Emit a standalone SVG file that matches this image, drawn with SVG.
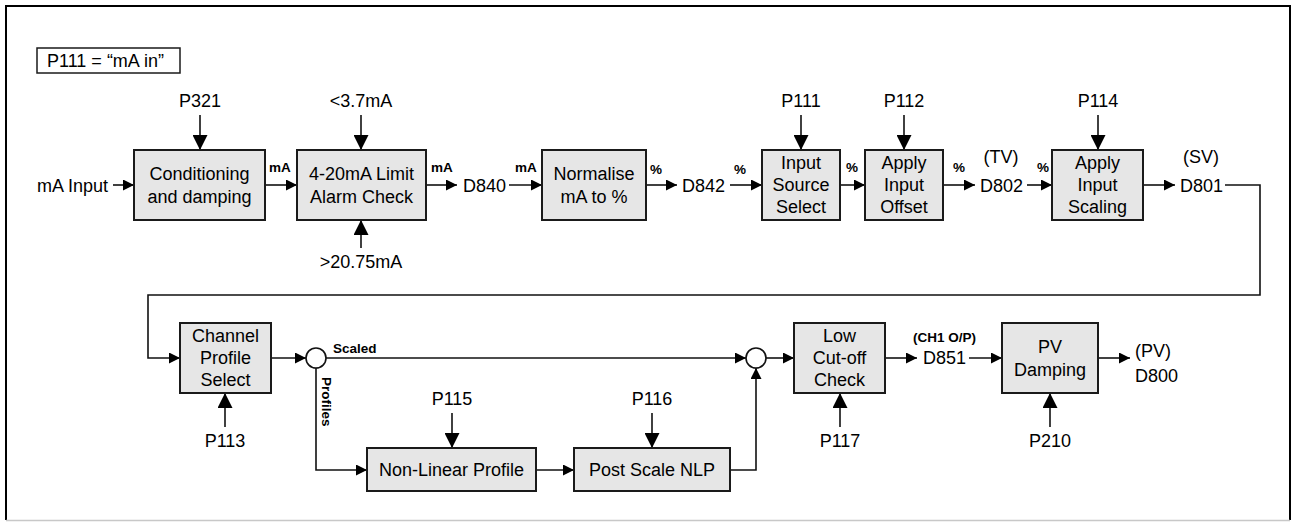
<svg xmlns="http://www.w3.org/2000/svg" width="1292" height="522" viewBox="0 0 1292 522">
<style>
text{font-family:"Liberation Sans",Arial,sans-serif;fill:#000}
.t{font-size:18px}
.c{text-anchor:middle}
.b{font-size:13.5px;font-weight:bold}
.box{fill:#e6e6e6;stroke:#1a1a1a;stroke-width:2}
.ln{fill:none;stroke:#111;stroke-width:1.6}
.s{marker-end:url(#ah)}
.L{marker-end:url(#ahL)}
.junc{fill:#fff;stroke:#111;stroke-width:1.6}
</style>
<defs>
<marker id="ah" viewBox="0 0 10 10" refX="10" refY="5" markerWidth="11" markerHeight="11" markerUnits="userSpaceOnUse" orient="auto"><path d="M0,0 L10,5 L0,10 z" fill="#000"/></marker>
<marker id="ahL" viewBox="0 0 10 10" refX="10" refY="5" markerWidth="15" markerHeight="15" markerUnits="userSpaceOnUse" orient="auto"><path d="M0,0 L10,5 L0,10 z" fill="#000"/></marker>
</defs>
<rect width="1292" height="522" fill="#fff"/>
<path d="M6,520 L6,6 L1290,6 L1290,520" fill="none" stroke="#000" stroke-width="2"/>
<line x1="6" y1="520.5" x2="1290" y2="520.5" stroke="#c8c8c8" stroke-width="1.5"/>

<g id="mode">
<rect x="37" y="48" width="143" height="25" fill="#fff" stroke="#1a1a1a" stroke-width="1.5"/>
<text class="t" x="47" y="67">P111 = “mA in”</text>
</g>

<g id="connectors">
<line class="ln s" x1="113" y1="185" x2="134" y2="185"/>
<line class="ln L" x1="200" y1="115" x2="200" y2="150"/>
<line class="ln s" x1="265" y1="185" x2="297" y2="185"/>
<line class="ln L" x1="361" y1="115" x2="361" y2="150"/>
<line class="ln L" x1="361" y1="248" x2="361" y2="220"/>
<line class="ln s" x1="426" y1="185" x2="457" y2="185"/>
<line class="ln s" x1="509" y1="185" x2="542" y2="185"/>
<line class="ln s" x1="646" y1="185" x2="677" y2="185"/>
<line class="ln s" x1="730" y1="185" x2="762" y2="185"/>
<line class="ln L" x1="801" y1="115" x2="801" y2="150"/>
<line class="ln s" x1="840" y1="185" x2="865" y2="185"/>
<line class="ln L" x1="904" y1="115" x2="904" y2="150"/>
<line class="ln s" x1="943" y1="185" x2="975" y2="185"/>
<line class="ln s" x1="1027" y1="185" x2="1052" y2="185"/>
<line class="ln L" x1="1098" y1="115" x2="1098" y2="150"/>
<line class="ln s" x1="1143" y1="185" x2="1175" y2="185"/>
<polyline class="ln s" points="1225,185 1260,185 1260,295 148,295 148,358 180,358"/>
<line class="ln s" x1="271" y1="358" x2="306" y2="358"/>
<line class="ln L" x1="225" y1="427" x2="225" y2="393"/>
<line class="ln s" x1="326" y1="358" x2="746" y2="358"/>
<polyline class="ln s" points="316,368 316,470 367,470"/>
<line class="ln L" x1="452" y1="413" x2="452" y2="448"/>
<line class="ln s" x1="536" y1="470" x2="574" y2="470"/>
<line class="ln L" x1="652" y1="413" x2="652" y2="448"/>
<polyline class="ln s" points="730,470 756,470 756,368"/>
<line class="ln s" x1="766" y1="358" x2="794" y2="358"/>
<line class="ln L" x1="840" y1="427" x2="840" y2="393"/>
<line class="ln s" x1="885" y1="358" x2="917" y2="358"/>
<line class="ln s" x1="969" y1="358" x2="1002" y2="358"/>
<line class="ln L" x1="1050" y1="427" x2="1050" y2="393"/>
<line class="ln s" x1="1098" y1="358" x2="1130" y2="358"/>
<circle id="junction1" class="junc" cx="316" cy="358" r="10"/>
<circle id="junction2" class="junc" cx="756" cy="358" r="10"/>
</g>

<g id="labels">
<text class="t" x="37" y="192">mA Input</text>
<text class="t c" x="200" y="107">P321</text>
<text class="b" x="269" y="172">mA</text>
<text class="t c" x="361" y="107">&lt;3.7mA</text>
<text class="t c" x="361" y="268">&gt;20.75mA</text>
<text class="b" x="431" y="172">mA</text>
<text class="t" x="463" y="192">D840</text>
<text class="b" x="515" y="172">mA</text>
<text class="b" x="650" y="174">%</text>
<text class="t" x="682" y="192">D842</text>
<text class="b" x="734" y="174">%</text>
<text class="t c" x="801" y="107">P111</text>
<text class="b" x="846" y="172">%</text>
<text class="t c" x="904" y="107">P112</text>
<text class="b" x="953" y="172">%</text>
<text class="t c" x="1001" y="163">(TV)</text>
<text class="t" x="980" y="192">D802</text>
<text class="b" x="1037" y="172">%</text>
<text class="t c" x="1098" y="107">P114</text>
<text class="t c" x="1201" y="163">(SV)</text>
<text class="t" x="1180" y="192">D801</text>
<text class="t c" x="225" y="447">P113</text>
<text class="b" x="333" y="353">Scaled</text>
<text class="b" transform="translate(322,377) rotate(90)">Profiles</text>
<text class="t c" x="452" y="405">P115</text>
<text class="t c" x="652" y="405">P116</text>
<text class="t c" x="840" y="447">P117</text>
<text class="b" x="913" y="342">(CH1 O/P)</text>
<text class="t" x="923" y="364">D851</text>
<text class="t c" x="1050" y="447">P210</text>
<text class="t" x="1135" y="357">(PV)</text>
<text class="t" x="1135" y="382">D800</text>
</g>

<g id="conditioning">
<rect class="box" x="134" y="150" width="131" height="70"/>
<text class="t c" x="199.5" y="180">Conditioning</text>
<text class="t c" x="199.5" y="203">and damping</text>
</g>
<g id="limit-alarm">
<rect class="box" x="297" y="150" width="129" height="70"/>
<text class="t c" x="361.5" y="180">4-20mA Limit</text>
<text class="t c" x="361.5" y="203">Alarm Check</text>
</g>
<g id="normalise">
<rect class="box" x="542" y="150" width="104" height="70"/>
<text class="t c" x="594" y="180">Normalise</text>
<text class="t c" x="594" y="203">mA to %</text>
</g>
<g id="input-source">
<rect class="box" x="762" y="150" width="78" height="70"/>
<text class="t c" x="801" y="169">Input</text>
<text class="t c" x="801" y="191">Source</text>
<text class="t c" x="801" y="213">Select</text>
</g>
<g id="input-offset">
<rect class="box" x="865" y="150" width="78" height="70"/>
<text class="t c" x="904" y="169">Apply</text>
<text class="t c" x="904" y="191">Input</text>
<text class="t c" x="904" y="213">Offset</text>
</g>
<g id="input-scaling">
<rect class="box" x="1052" y="150" width="91" height="70"/>
<text class="t c" x="1097.5" y="169">Apply</text>
<text class="t c" x="1097.5" y="191">Input</text>
<text class="t c" x="1097.5" y="213">Scaling</text>
</g>
<g id="channel-profile">
<rect class="box" x="180" y="323" width="91" height="70"/>
<text class="t c" x="225.5" y="342">Channel</text>
<text class="t c" x="225.5" y="364">Profile</text>
<text class="t c" x="225.5" y="386">Select</text>
</g>
<g id="nonlinear">
<rect class="box" x="367" y="448" width="169" height="43"/>
<text class="t c" x="451.5" y="476">Non-Linear Profile</text>
</g>
<g id="postscale">
<rect class="box" x="574" y="448" width="156" height="43"/>
<text class="t c" x="652" y="476">Post Scale NLP</text>
</g>
<g id="lowcutoff">
<rect class="box" x="794" y="323" width="91" height="70"/>
<text class="t c" x="839.5" y="342">Low</text>
<text class="t c" x="839.5" y="364">Cut-off</text>
<text class="t c" x="839.5" y="386">Check</text>
</g>
<g id="pvdamping">
<rect class="box" x="1002" y="323" width="96" height="70"/>
<text class="t c" x="1050" y="353">PV</text>
<text class="t c" x="1050" y="376">Damping</text>
</g>
</svg>
